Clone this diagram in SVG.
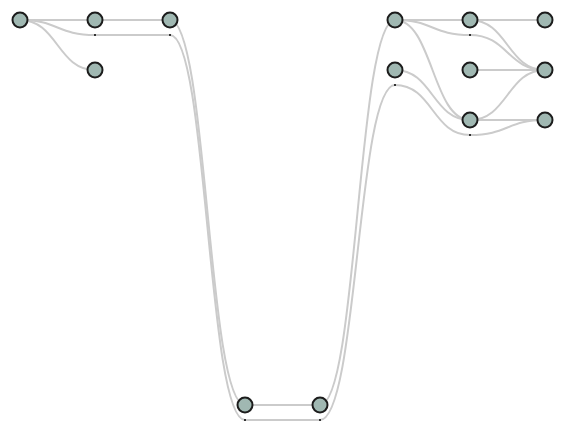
<svg xmlns="http://www.w3.org/2000/svg" width="565" height="440" viewBox="0 0 565 440">
<style>
.e{fill:none;stroke:#cbcbcb;stroke-width:2}
.n{fill:#a0b8b2;stroke:#1c1c1c;stroke-width:2}
.d{fill:#333}
</style>
<rect width="565" height="440" fill="#fff"/>
<g id="connectors">
<path class="e" d="M20,20 L95,20"/>
<path class="e" d="M20,20 C57.5,20 57.5,70 95,70"/>
<path class="e" d="M20,20 C57.5,20 57.5,35 95,35 L170,35 C207.5,35 207.5,420 245,420 L320,420 C357.5,420 357.5,85 395,85 C432.5,85 432.5,135 470,135 C507.5,135 507.5,120 545,120"/>
<path class="e" d="M95,20 L170,20"/>
<path class="e" d="M170,20 C207.5,20 207.5,405 245,405"/>
<path class="e" d="M245,405 L320,405"/>
<path class="e" d="M320,405 C357.5,405 357.5,20 395,20"/>
<path class="e" d="M395,20 L470,20"/>
<path class="e" d="M395,20 C432.5,20 432.5,35 470,35 C507.5,35 507.5,70 545,70"/>
<path class="e" d="M395,20 C432.5,20 432.5,120 470,120"/>
<path class="e" d="M395,70 C432.5,70 432.5,120 470,120"/>
<path class="e" d="M470,20 L545,20"/>
<path class="e" d="M470,20 C507.5,20 507.5,70 545,70"/>
<path class="e" d="M470,70 L545,70"/>
<path class="e" d="M470,120 C507.5,120 507.5,70 545,70"/>
<path class="e" d="M470,120 L545,120"/>
<rect class="d" x="94" y="34" width="2" height="2"/>
<rect class="d" x="169" y="34" width="2" height="2"/>
<rect class="d" x="244" y="419" width="2" height="2"/>
<rect class="d" x="319" y="419" width="2" height="2"/>
<rect class="d" x="394" y="84" width="2" height="2"/>
<rect class="d" x="469" y="134" width="2" height="2"/>
<rect class="d" x="469" y="34" width="2" height="2"/>
</g>
<g id="nA"><circle class="n" cx="20" cy="20" r="7.5"/></g>
<g id="nB"><circle class="n" cx="95" cy="20" r="7.5"/></g>
<g id="nC"><circle class="n" cx="95" cy="70" r="7.5"/></g>
<g id="nD"><circle class="n" cx="170" cy="20" r="7.5"/></g>
<g id="nE"><circle class="n" cx="245" cy="405" r="7.5"/></g>
<g id="nF"><circle class="n" cx="320" cy="405" r="7.5"/></g>
<g id="nG"><circle class="n" cx="395" cy="20" r="7.5"/></g>
<g id="nH"><circle class="n" cx="395" cy="70" r="7.5"/></g>
<g id="nI"><circle class="n" cx="470" cy="20" r="7.5"/></g>
<g id="nJ"><circle class="n" cx="470" cy="70" r="7.5"/></g>
<g id="nK"><circle class="n" cx="470" cy="120" r="7.5"/></g>
<g id="nL"><circle class="n" cx="545" cy="20" r="7.5"/></g>
<g id="nM"><circle class="n" cx="545" cy="70" r="7.5"/></g>
<g id="nN"><circle class="n" cx="545" cy="120" r="7.5"/></g>
</svg>
